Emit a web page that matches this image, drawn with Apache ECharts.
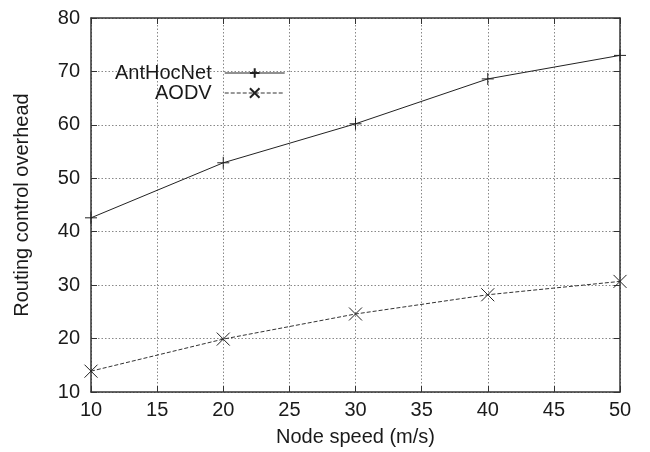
<!DOCTYPE html>
<html><head><meta charset="utf-8">
<script src="https://cdn.jsdelivr.net/npm/echarts@6/dist/echarts.min.js"></script>
<style>html,body{margin:0;padding:0;background:#fff}#c{width:650px;height:452px}</style>
</head><body><div id="c"></div>
<script>
const speeds = [10, 20, 30, 40, 50];
const antHocNet = [42.6, 52.9, 60.2, 68.6, 73.0];
const aodv = [13.9, 19.9, 24.6, 28.2, 30.7];
const seriesNames = ['AntHocNet', 'AODV'];

const font = 'Liberation Sans, Arial, Helvetica, sans-serif';
const axisCol = '#333';
const txtCol = '#1a1a1a';
const plusSym = 'path://M0,-1L0,1M-1,0L1,0';
const xSym = 'path://M-1,-1L1,1M-1,1L1,-1';

const chart = echarts.init(document.getElementById('c'), null, {renderer: 'canvas'});
const gridLine = {show: true, lineStyle: {color: '#888', type: [1.5, 2], width: 1}};
chart.setOption({
  animation: false,
  backgroundColor: '#fff',
  textStyle: {fontFamily: font},
  grid: {left: 91, right: 30, top: 18, bottom: 59.5},
  legend: {
    orient: 'vertical', left: 110, top: 58, align: 'right',
    itemWidth: 60, itemHeight: 12, itemGap: 0,
    textStyle: {fontSize: 20, color: txtCol, fontFamily: font, padding: [0, 8, 0, 0]},
    lineStyle: {width: 1},
    data: seriesNames
  },
  xAxis: [{
    type: 'value', min: 10, max: 50, interval: 5,
    name: 'Node speed (m/s)', nameLocation: 'middle', nameGap: 35,
    nameTextStyle: {fontSize: 20, color: txtCol},
    axisLine: {lineStyle: {color: axisCol, width: 1.5}},
    axisTick: {inside: true, length: 6, lineStyle: {color: axisCol}},
    axisLabel: {fontSize: 20, color: txtCol, margin: 8},
    splitLine: gridLine
  }, {
    type: 'value', min: 10, max: 50, interval: 5, position: 'top',
    axisLine: {show: true, lineStyle: {color: axisCol, width: 1.5}},
    axisTick: {inside: true, length: 6, lineStyle: {color: axisCol}},
    axisLabel: {show: false}, splitLine: {show: false}
  }],
  yAxis: [{
    type: 'value', min: 10, max: 80, interval: 10,
    name: 'Routing control overhead', nameLocation: 'middle', nameGap: 59,
    nameTextStyle: {fontSize: 20, color: txtCol},
    axisLine: {show: true, lineStyle: {color: axisCol, width: 1.5}},
    axisTick: {show: true, inside: true, length: 6, lineStyle: {color: axisCol}},
    axisLabel: {fontSize: 20, color: txtCol, margin: 11},
    splitLine: gridLine
  }, {
    type: 'value', min: 10, max: 80, interval: 10, position: 'right',
    axisLine: {show: true, lineStyle: {color: axisCol, width: 1.5}},
    axisTick: {show: true, inside: true, length: 6, lineStyle: {color: axisCol}},
    axisLabel: {show: false}, splitLine: {show: false}
  }],
  series: [{
    name: seriesNames[0], type: 'line',
    data: speeds.map((s, i) => [s, antHocNet[i]]),
    symbol: plusSym, symbolSize: 12, showAllSymbol: true,
    lineStyle: {color: '#222', width: 1},
    itemStyle: {color: 'rgba(0,0,0,0)', borderColor: '#222', borderWidth: 1},
    z: 5
  }, {
    name: seriesNames[1], type: 'line',
    data: speeds.map((s, i) => [s, aodv[i]]),
    symbol: xSym, symbolSize: 13, showAllSymbol: true,
    lineStyle: {color: '#333', width: 1, type: [4, 2]},
    itemStyle: {color: 'rgba(0,0,0,0)', borderColor: '#222', borderWidth: 1},
    z: 5
  }]
});
</script>
</body></html>
